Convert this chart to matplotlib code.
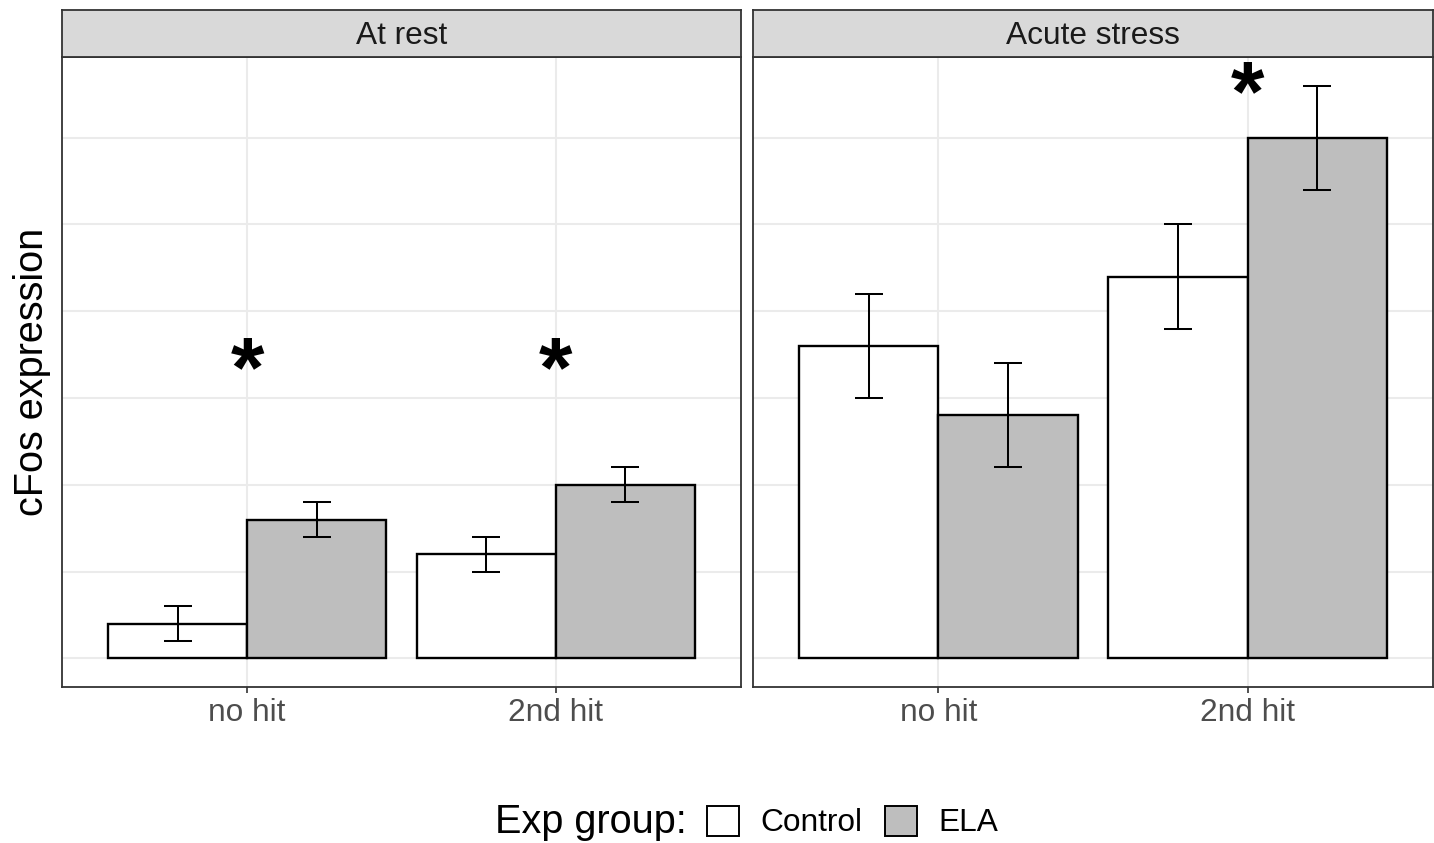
import matplotlib
matplotlib.use('Agg')
import matplotlib.pyplot as plt
from matplotlib.patches import Patch

plt.rcParams['font.family'] = ['Liberation Sans', 'DejaVu Sans']

# data (arbitrary units, gridline = 1)
conditions = ['At rest', 'Acute stress']
hits = ['no hit', '2nd hit']
groups = ['Control', 'ELA']
control_mean = [[0.4, 1.2], [3.6, 4.4]]
ela_mean = [[1.6, 2.0], [2.8, 6.0]]
control_err = [[0.2, 0.2], [0.6, 0.6]]
ela_err = [[0.2, 0.2], [0.6, 0.6]]
# significance stars: (condition, hit index, y)
stars = [(0, 0, 3.28), (0, 1, 3.28), (1, 1, 6.45)]

fills = {'Control': 'white', 'ELA': '#BEBEBE'}
dark = '#333333'
gridc = '#EBEBEB'

W, H = 1434, 843
fig = plt.figure(figsize=(W / 100, H / 100), dpi=100)

panels_px = [(62, 741), (753, 1433)]
ptop, pbot = 57, 687
stop = 10

width = 0.45
for k, cond in enumerate(conditions):
    x0, x1 = panels_px[k]
    ax = fig.add_axes([x0 / W, 1 - pbot / H, (x1 - x0) / W, (pbot - ptop) / H])
    sx = fig.add_axes([x0 / W, 1 - ptop / H, (x1 - x0) / W, (ptop - stop) / H])

    pos = [1, 2]
    means = [control_mean[k], ela_mean[k]]
    errs = [control_err[k], ela_err[k]]
    for g, grp in enumerate(groups):
        xs = [p + (g - 0.5) * width for p in pos]
        ax.bar(xs, means[g], width=width, color=fills[grp], edgecolor='black',
               linewidth=1.7, zorder=2)
        ax.errorbar(xs, means[g], yerr=errs[g], fmt='none', ecolor='black',
                    elinewidth=1.45, capsize=10, capthick=1.45, zorder=3)

    for (c, h, y) in stars:
        if c == k:
            ax.text(pos[h], y, '*', ha='center', va='center', fontsize=62,
                    fontweight='bold', color='black', zorder=4)

    ax.set_xlim(0.4, 2.6)
    ax.set_ylim(-0.33, 6.93)
    ax.set_xticks(pos)
    ax.set_xticklabels(hits)
    ax.set_yticks([0, 2, 4, 6])
    ax.set_yticks([1, 3, 5], minor=True)
    ax.set_yticklabels([])
    ax.tick_params(axis='y', which='both', length=0)
    ax.tick_params(axis='x', length=4, width=1.2, color=dark, labelsize=22.8,
                   labelcolor='#4D4D4D', pad=4)
    ax.grid(True, which='major', color=gridc, linewidth=1.5)
    ax.grid(True, which='minor', axis='y', color=gridc, linewidth=1.5)
    ax.set_axisbelow(True)
    for s in ax.spines.values():
        s.set_color(dark)
        s.set_linewidth(1.3)

    sx.set_facecolor('#D9D9D9')
    sx.set_xticks([])
    sx.set_yticks([])
    for s in sx.spines.values():
        s.set_color(dark)
        s.set_linewidth(1.3)
    sx.text(0.5, 0.44, cond, transform=sx.transAxes, ha='center', va='center',
            fontsize=22.8, color='#1A1A1A')

fig.text(32 / W, 1 - 372 / H, 'cFos expression', rotation=90, ha='center',
         va='center', fontsize=28.5, color='black')

fig.text(495 / W, 1 - 822 / H, 'Exp group:', ha='left', va='center',
         fontsize=28.5, color='black')
handles = [Patch(facecolor=fills[g], edgecolor='black', linewidth=1.4) for g in groups]
fig.legend(handles, groups, ncol=2, loc='center left',
           bbox_to_anchor=(707 / W, 1 - 822 / H), frameon=False, fontsize=22.8,
           handlelength=1.0, handleheight=1.1, handletextpad=0.7,
           columnspacing=0.7, borderpad=0, borderaxespad=0)

fig.savefig('out.png', dpi=100)
